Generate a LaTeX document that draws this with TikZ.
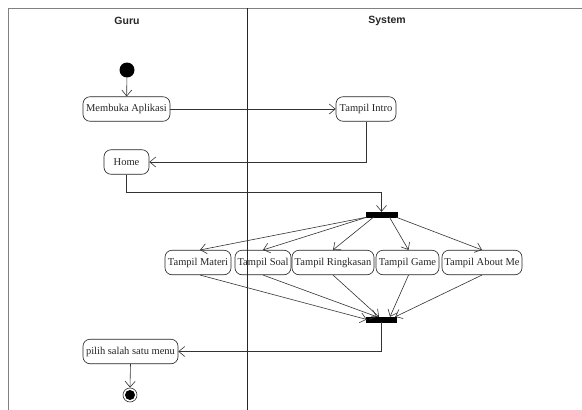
\documentclass[tikz,border=0pt]{standalone}
\usepackage{fontspec}
\setmainfont{Liberation Serif}
\newfontfamily\hdrfont{Liberation Sans}
\usetikzlibrary{arrows.meta,calc}
\tikzset{
  act/.style={draw=black!85, rounded corners=7pt, minimum height=24.5pt, inner sep=1pt, line width=0.6pt, font=\fontsize{10.5}{12}\selectfont, text=black!85},
  bar/.style={fill=black, draw=black, inner sep=0pt, minimum height=5pt},
  arr/.style={draw=black!80, line width=0.6pt, -{Straight Barb[length=6pt,width=10pt]}},
  hdr/.style={font=\hdrfont\bfseries\fontsize{10.5}{12}\selectfont, text=black!85}
}
\begin{document}
\begin{tikzpicture}[x=1pt,y=-1pt]
\useasboundingbox (0,0) rectangle (582,410);
\fill[white] (0,0) rectangle (582,410);
% frame and lanes
\draw[black!50, line width=0.8pt] (582,8) -- (8,8) -- (8,410);
\draw[black!85, line width=0.6pt] (247,8) -- (247,410);
\node[hdr] (guru) at (127,20.5) {Guru};
\node[hdr] (sys) at (387,20.5) {System};
% nodes
\node[circle, fill=black, minimum size=15pt, inner sep=0pt] (start) at (127,70) {};
\node[act, minimum width=87pt] (membuka) at (126.5,109) {Membuka Aplikasi};
\node[act, minimum width=60pt] (intro) at (366,109) {Tampil Intro};
\node[act, minimum width=45pt] (home) at (126.5,162) {Home};
\node[bar, minimum width=31pt] (fork) at (381.5,214.5) {};
\node[act, minimum width=66pt] (materi) at (198,262.5) {Tampil Materi};
\node[act, minimum width=56pt] (soal) at (263,262.5) {Tampil Soal};
\node[act, minimum width=82pt] (ringkasan) at (333,262.5) {Tampil Ringkasan};
\node[act, minimum width=63pt] (game) at (407.5,262.5) {Tampil Game};
\node[act, minimum width=80pt] (about) at (482,262.5) {Tampil About Me};
\node[bar, minimum width=30pt] (join) at (381,319.5) {};
\node[act, minimum width=95pt] (pilih) at (130.5,351.5) {pilih salah satu menu};
\node[circle, draw=black!80, line width=0.6pt, minimum size=14pt, inner sep=0pt] (end) at (130,395) {};
\fill[black] (end.center) circle (5pt);
% connectors
\draw[arr] (start) -- (membuka);
\draw[arr] (membuka.east) -- (intro.west);
\draw[arr] (intro.south) |- (home.east);
\draw[arr] (home.south) -- ++(0,18) -| (fork.north);
\draw[arr] ([xshift=1pt]fork.south west) -- ([xshift=2pt]materi.north);
\draw[arr] ([xshift=1pt]fork.south west) -- (soal.north);
\draw[arr] ([xshift=-8pt]fork.south) -- (ringkasan.north);
\draw[arr] ([xshift=8pt]fork.south) -- ([xshift=1pt]game.north);
\draw[arr] ([xshift=-1pt]fork.south east) -- (about.north);
\draw[arr] ([xshift=2pt]materi.south) -- ([xshift=1pt]join.west);
\draw[arr] (soal.south) -- ([xshift=-4pt]join.north);
\draw[arr] (ringkasan.south) -- ([xshift=-2pt]join.north);
\draw[arr] ([xshift=1pt]game.south) -- ([xshift=9pt]join.north);
\draw[arr] (about.south) -- ([xshift=-1pt]join.north east);
\draw[arr] (join.south) |- (pilih.east);
\draw[arr] (pilih.south) -- (end.north);
\end{tikzpicture}
\end{document}
